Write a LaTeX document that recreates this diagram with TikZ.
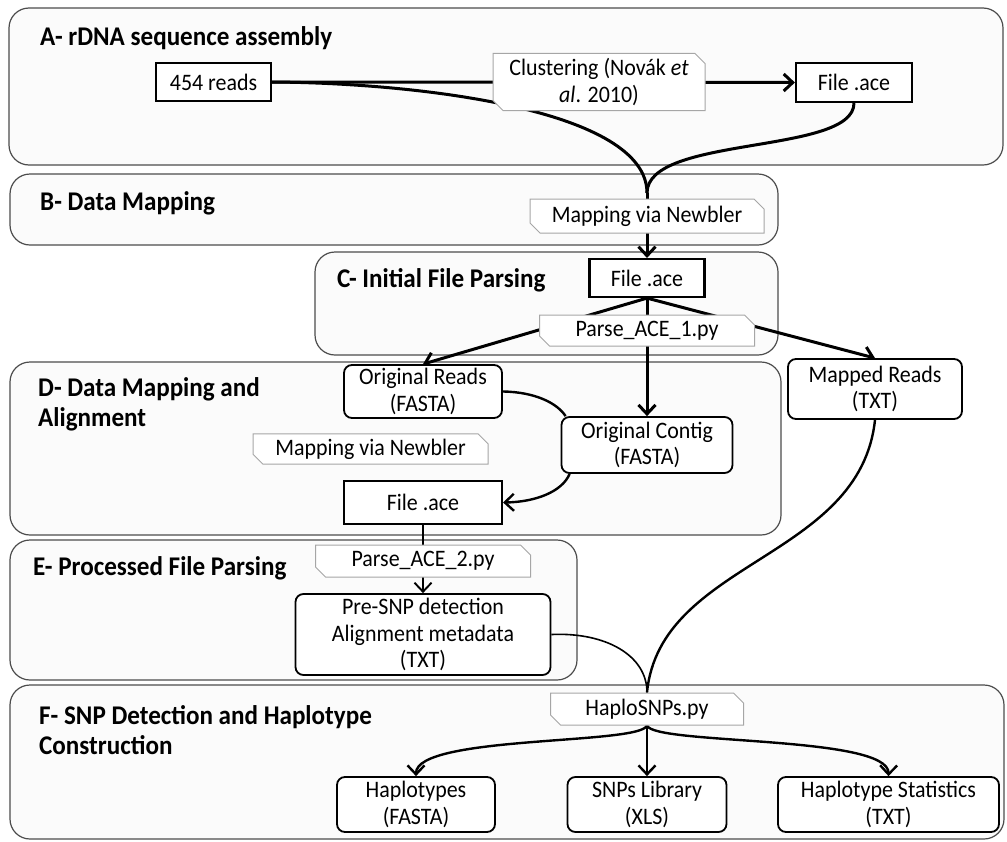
\documentclass[tikz,border=0pt]{standalone}
\usepackage{fontspec}
\setmainfont{Carlito}[FakeStretch=0.93]
\usetikzlibrary{arrows.meta,shapes.misc}
\pgfdeclarelayer{bgsec}
\pgfdeclarelayer{bglink}
\pgfsetlayers{bgsec,bglink,main}
\begin{document}
\begin{tikzpicture}[x=1pt,y=-1pt,
  sec/.style={draw=black!70, line width=1.2pt, fill=black!1.5, rounded corners=20pt, inner sep=0pt},
  sectitle/.style={anchor=west, font=\fontsize{27}{30}\selectfont\bfseries, align=left, inner sep=0pt},
  filebox/.style={draw, line width=2.2pt, fill=white, font=\fontsize{23.6}{26.5}\selectfont, inner sep=0pt, align=center},
  databox/.style={filebox, line width=1.8pt, rounded corners=8pt},
  tagbox/.style={chamfered rectangle, chamfered rectangle corners={north east,south west}, chamfered rectangle xsep=5pt, chamfered rectangle ysep=5pt, draw=black!35, line width=1pt, fill=white, font=\fontsize{23.6}{26.5}\selectfont, inner sep=0pt, align=center},
  barb/.tip={Straight Barb[length=9pt,width=17pt]},
  linkA/.style={line width=3pt, -barb},
  lineA/.style={line width=3pt},
  linkB/.style={line width=2.4pt, -barb},
  linkC/.style={line width=1.9pt, -barb},
  lineB/.style={line width=2.4pt},
  lineC/.style={line width=1.6pt}
]
\useasboundingbox (0,0) rectangle (1007,841);

\begin{pgfonlayer}{bgsec}
\node[sec, minimum width=994pt, minimum height=157pt] (secA) at (506,86.5) {};
\node[sec, minimum width=768pt, minimum height=71pt] (secB) at (394,209.5) {};
\node[sec, minimum width=463pt, minimum height=103pt] (secC) at (546.5,303.5) {};
\node[sec, minimum width=771pt, minimum height=173pt] (secD) at (395.5,448.5) {};
\node[sec, minimum width=567pt, minimum height=140pt] (secE) at (293.5,610) {};
\node[sec, minimum width=994pt, minimum height=154pt] (secF) at (507,762) {};
\end{pgfonlayer}

% section titles
\node[sectitle] (tA) at (40,38) {A- rDNA sequence assembly};
\node[sectitle] (tB) at (40,203) {B- Data Mapping};
\node[sectitle] (tC) at (337,280) {C- Initial File Parsing};
\node[sectitle] (tD) at (38,404) {D- Data Mapping and\\Alignment};
\node[sectitle] (tE) at (33,568) {E- Processed File Parsing};
\node[sectitle] (tF) at (39,730) {F- SNP Detection and Haplotype\\Construction};

% nodes
\node[filebox, minimum width=115pt, minimum height=38pt] (reads) at (213.5,82) {454 reads};
\node[filebox, minimum width=116pt, minimum height=39pt] (aceA) at (854,82.5) {File .ace};
\node[tagbox, minimum width=212pt, minimum height=50pt] (clust) at (599,82) {Clustering (Novák \textit{et}\\\textit{al}. 2010)};
\node[tagbox, minimum width=234pt, minimum height=34pt] (mapB) at (647,216) {Mapping via Newbler};
\node[filebox, minimum width=115pt, minimum height=38pt] (aceC) at (647,278) {File .ace};
\node[tagbox, minimum width=215pt, minimum height=31pt] (parse1) at (647,330.5) {Parse\_ACE\_1.py};
\node[databox, minimum width=158pt, minimum height=53pt] (oreads) at (423,391.5) {Original Reads\\(FASTA)};
\node[databox, minimum width=171pt, minimum height=56pt] (ocontig) at (647,445) {Original Contig\\(FASTA)};
\node[databox, minimum width=174pt, minimum height=60pt] (mapped) at (875,389) {Mapped Reads\\(TXT)};
\node[tagbox, minimum width=235pt, minimum height=27pt] (mapD) at (370.5,449) {Mapping via Newbler};
\node[filebox, minimum width=158pt, minimum height=43pt] (aceD) at (423,502.5) {File .ace};
\node[tagbox, minimum width=215pt, minimum height=32pt] (parse2) at (423,561) {Parse\_ACE\_2.py};
\node[databox, minimum width=255pt, minimum height=81pt] (presnp) at (423,634.5) {Pre-SNP detection\\Alignment metadata\\(TXT)};
\node[tagbox, minimum width=193pt, minimum height=32pt] (haplo) at (647,709) {HaploSNPs.py};
\node[databox, minimum width=158pt, minimum height=55pt] (haps) at (416,804.5) {Haplotypes\\(FASTA)};
\node[databox, minimum width=159pt, minimum height=55pt] (snps) at (647,804.5) {SNPs Library\\(XLS)};
\node[databox, minimum width=221pt, minimum height=55pt] (hstats) at (888.5,804.5) {Haplotype Statistics\\(TXT)};

\coordinate (m1) at (647,193);

\begin{pgfonlayer}{bglink}
\draw[linkA] (reads.east) -- (aceA.west);
\draw[lineA] (reads.east) .. controls (420,83) and (647,110) .. (m1);
\draw[lineA] (aceA.south) .. controls (854,155) and (647,135) .. (m1);
\draw[linkA] (m1) -- (aceC.north);
\draw[linkA] (aceC.south) -- (oreads.north);
\draw[linkA] (aceC.south) -- (ocontig.north);
\draw[linkA] (aceC.south) -- (mapped.north);
\draw[lineB] (oreads.east) .. controls (535,392) and (557,403) .. ([xshift=5pt]ocontig.north west);
\draw[linkB] ([xshift=9pt]ocontig.south west) .. controls (562,492) and (535,502) .. (aceD.east);
\draw[linkC] (aceD.south) -- (presnp.north);
\draw[lineC] (presnp.east) .. controls (605,632) and (647,655) .. (haplo.north);
\draw[lineB] (mapped.south) .. controls (860,560) and (660,560) .. (haplo.north);
\draw[linkB] (haplo.south) .. controls (640,745) and (416,735) .. (haps.north);
\draw[linkB] (haplo.south) -- (snps.north);
\draw[linkB] (haplo.south) .. controls (654,745) and (889,735) .. (hstats.north);
\end{pgfonlayer}
\end{tikzpicture}
\end{document}
